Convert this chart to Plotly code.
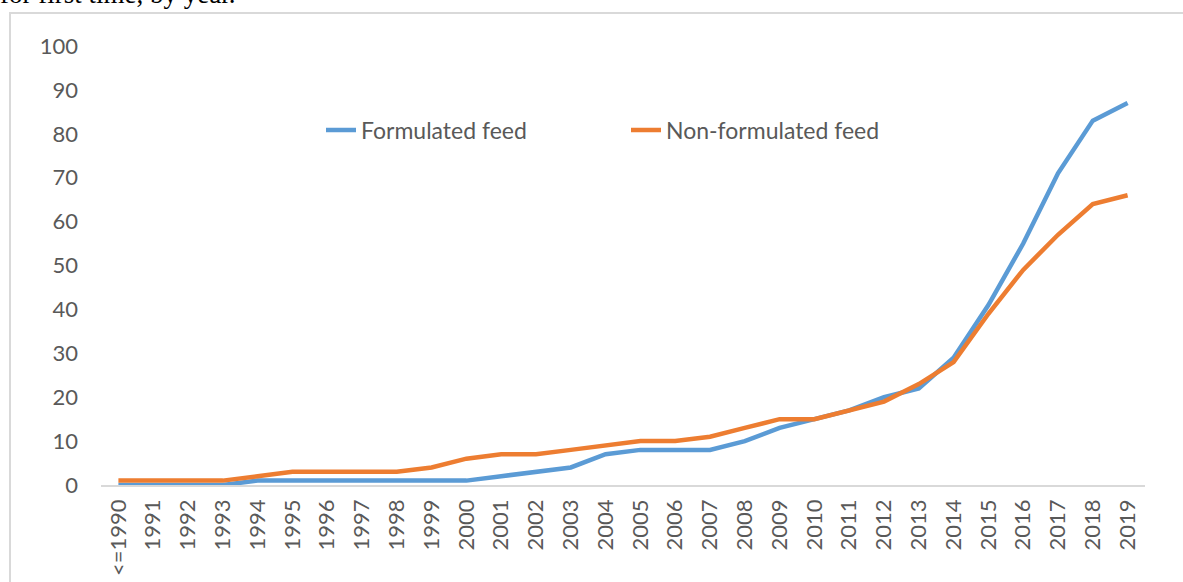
import plotly.graph_objects as go

years = ["<=1990"] + [str(y) for y in range(1991, 2020)]
formulated = [0, 0, 0, 0, 1, 1, 1, 1, 1, 1, 1, 2, 3, 4, 7, 8, 8, 8, 10, 13,
              15, 17, 20, 22, 29, 41, 55, 71, 83, 87]
non_formulated = [1, 1, 1, 1, 2, 3, 3, 3, 3, 4, 6, 7, 7, 8, 9, 10, 10, 11, 13, 15,
                  15, 17, 19, 23, 28, 39, 49, 57, 64, 66]
y_ticks = list(range(0, 101, 10))

W, H = 1183, 582
L, R, T, B = 101, 38, 46, 97
pw, ph = W - L - R, H - T - B

def px_x(x):
    return (x - L) / pw

def px_y(y):
    return (H - B - y) / ph

FONT = "Lato"
GREY = "#595959"

fig = go.Figure()
fig.add_trace(go.Scatter(x=years, y=formulated, mode="lines", name="Formulated feed",
                         line=dict(color="#5B9BD5", width=4.5)))
fig.add_trace(go.Scatter(x=years, y=non_formulated, mode="lines", name="Non-formulated feed",
                         line=dict(color="#ED7D31", width=4.5)))

fig.update_layout(
    width=W, height=H,
    margin=dict(l=L, r=R, t=T, b=B, autoexpand=False),
    paper_bgcolor="white", plot_bgcolor="white",
    font=dict(family=FONT, size=22, color=GREY),
    showlegend=True,
    legend=dict(orientation="h", x=px_x(321), y=px_y(130), xanchor="left", yanchor="middle",
                bgcolor="rgba(0,0,0,0)", font=dict(family=FONT, size=23, color=GREY),
                entrywidth=260, entrywidthmode="pixels", itemwidth=30),
    xaxis=dict(type="category", range=[-0.5, 29.5], tickangle=-90, showgrid=False,
               showline=True, linecolor="#D9D9D9", linewidth=1.5, ticks="",
               ticklabelstandoff=4,
               tickfont=dict(family=FONT, size=22, color=GREY), zeroline=False),
    yaxis=dict(range=[0, 100], tickvals=y_ticks, showgrid=False, showline=False,
               zeroline=False, ticks="", ticklabelstandoff=22,
               tickfont=dict(family=FONT, size=22, color=GREY)),
    shapes=[dict(type="rect", xref="paper", yref="paper",
                 x0=px_x(10), x1=px_x(1200), y0=px_y(600), y1=px_y(13),
                 line=dict(color="#D9D9D9", width=2), fillcolor="rgba(0,0,0,0)", layer="below")],
    annotations=[dict(text="for first time, by year.", xref="paper", yref="paper",
                      x=px_x(-2), y=px_y(11), xanchor="left", yanchor="bottom",
                      showarrow=False,
                      font=dict(family="Liberation Serif", size=27, color="black"))],
)

fig.write_html("out.html", config={"displayModeBar": False},
               post_script="document.body.style.margin='0';")
